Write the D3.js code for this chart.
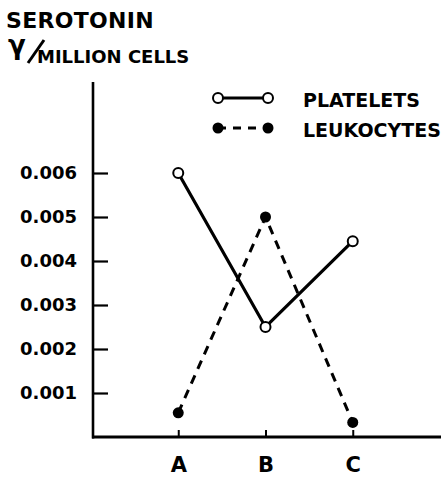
<!DOCTYPE html>
<html>
<head>
<meta charset="utf-8">
<script src="https://cdn.jsdelivr.net/npm/d3@7"></script>
<style>
  html, body { margin: 0; padding: 0; background: #fff; }
  svg { display: block; }
  text { font-family: "DejaVu Sans", sans-serif; font-weight: bold; fill: #000; }
</style>
</head>
<body>
<svg id="chart" width="444" height="478"></svg>
<script>
// ---- data ----
const categories = ["A", "B", "C"];
const platelets = [0.006, 0.0025, 0.00445];
const leukocytes = [0.00055, 0.005, 0.00033];
const yTicks = [0.001, 0.002, 0.003, 0.004, 0.005, 0.006];
const yTickLabels = ["0.001", "0.002", "0.003", "0.004", "0.005", "0.006"];
const seriesNames = ["PLATELETS", "LEUKOCYTES"];
const titleLine1 = "SEROTONIN";
const titleUnit = "γ";
const titleLine2 = "MILLION CELLS";

// ---- layout ----
const svg = d3.select("#chart");
const x0 = 93, x1 = 441, yBase = 437, yTop = 82;

const x = d3.scalePoint().domain(categories).range([91, 440]).padding(1);
const y = d3.scaleLinear().domain([0, 0.006]).range([yBase, 173]);

// axes lines
svg.append("line").attr("x1", x0).attr("x2", x0).attr("y1", yTop).attr("y2", yBase + 1.5)
  .attr("stroke", "#000").attr("stroke-width", 2.6);
svg.append("line").attr("x1", x0 - 1).attr("x2", x1).attr("y1", yBase).attr("y2", yBase)
  .attr("stroke", "#000").attr("stroke-width", 3);

// y axis ticks & labels
const yAxis = d3.axisLeft(y).tickValues(yTicks).tickSize(-15).tickPadding(16)
  .tickFormat((d, i) => yTickLabels[i]);
const gy = svg.append("g").attr("transform", `translate(${x0},0)`).call(yAxis);
gy.select(".domain").remove();
gy.selectAll(".tick line").attr("stroke", "#000").attr("stroke-width", 2.2);
gy.selectAll(".tick text").style("font-size", "18px")
  .style("font-family", "'DejaVu Sans', sans-serif").style("font-weight", "bold")
  .attr("fill", "#000");

// x axis ticks & labels
const xAxis = d3.axisBottom(x).tickSize(-7).tickPadding(20);
const gx = svg.append("g").attr("transform", `translate(0,${yBase})`).call(xAxis);
gx.select(".domain").remove();
gx.selectAll(".tick line").attr("stroke", "#000").attr("stroke-width", 2);
gx.selectAll(".tick text").style("font-size", "21px")
  .style("font-family", "'DejaVu Sans', sans-serif").style("font-weight", "bold")
  .attr("fill", "#000");

// series
const line = d3.line().x((d, i) => x(categories[i])).y(d => y(d));

svg.append("path").datum(leukocytes).attr("d", line)
  .attr("fill", "none").attr("stroke", "#000").attr("stroke-width", 3)
  .attr("stroke-dasharray", "9,7");
svg.append("path").datum(platelets).attr("d", line)
  .attr("fill", "none").attr("stroke", "#000").attr("stroke-width", 3.2);

svg.selectAll(".leuk").data(leukocytes).enter().append("circle")
  .attr("cx", (d, i) => x(categories[i])).attr("cy", d => y(d)).attr("r", 5.5)
  .attr("fill", "#000");
svg.selectAll(".plat").data(platelets).enter().append("circle")
  .attr("cx", (d, i) => x(categories[i])).attr("cy", d => y(d)).attr("r", 5)
  .attr("fill", "#fff").attr("stroke", "#000").attr("stroke-width", 2);

// legend
const lg = svg.append("g");
lg.append("line").attr("x1", 218).attr("x2", 268).attr("y1", 98).attr("y2", 98)
  .attr("stroke", "#000").attr("stroke-width", 3.2);
[218, 268].forEach(cx => lg.append("circle").attr("cx", cx).attr("cy", 98).attr("r", 5)
  .attr("fill", "#fff").attr("stroke", "#000").attr("stroke-width", 2));
lg.append("line").attr("x1", 218).attr("x2", 268).attr("y1", 128).attr("y2", 128)
  .attr("stroke", "#000").attr("stroke-width", 3).attr("stroke-dasharray", "8,7");
[218, 268].forEach(cx => lg.append("circle").attr("cx", cx).attr("cy", 128).attr("r", 5.5)
  .attr("fill", "#000"));
lg.append("text").attr("x", 303).attr("y", 107).style("font-size", "19px").text(seriesNames[0]);
lg.append("text").attr("x", 303).attr("y", 137).style("font-size", "19px").text(seriesNames[1]);

// title
svg.append("text").attr("x", 6).attr("y", 28).style("font-size", "22px")
  .attr("letter-spacing", 0.3).text(titleLine1);
svg.append("text").attr("x", 8).attr("y", 54).style("font-size", "26px").text(titleUnit);
svg.append("line").attr("x1", 28).attr("y1", 63).attr("x2", 44).attr("y2", 40)
  .attr("stroke", "#000").attr("stroke-width", 3);
svg.append("text").attr("x", 37).attr("y", 63).style("font-size", "18px").text(titleLine2);
</script>
</body>
</html>
